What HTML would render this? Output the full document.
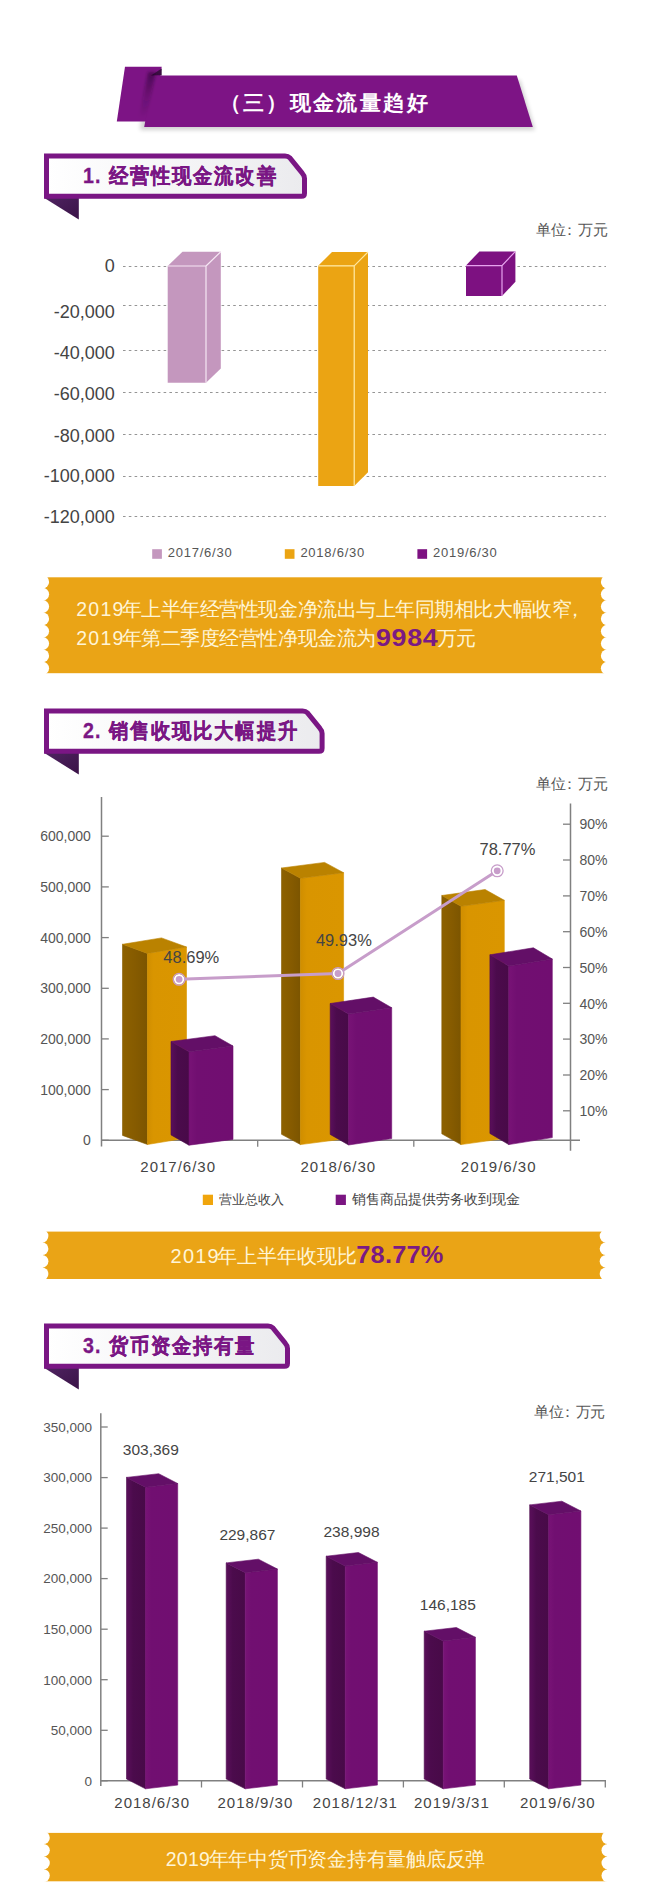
<!DOCTYPE html>
<html><head><meta charset="utf-8"><style>
html,body{margin:0;padding:0;background:#fff;}
body{width:650px;height:1890px;position:relative;overflow:hidden;font-family:"Liberation Sans",sans-serif;}
svg text{font-family:"Liberation Sans",sans-serif;}
</style></head><body>
<svg width="650" height="1890" viewBox="0 0 650 1890" style="position:absolute;left:0;top:0"><defs><linearGradient id="hdrfill" x1="0" x2="1" y1="0" y2="0"><stop offset="0" stop-color="#ffffff"/><stop offset="1" stop-color="#ebebee"/></linearGradient><linearGradient id="fold" x1="0" x2="1" y1="0" y2="1"><stop offset="0" stop-color="#4f2461"/><stop offset="1" stop-color="#3a1247"/></linearGradient><linearGradient id="edgeshade" x1="0" x2="1" y1="0" y2="0"><stop offset="0" stop-color="#2a0030" stop-opacity="0"/><stop offset="1" stop-color="#2a0030" stop-opacity="0.5"/></linearGradient><linearGradient id="vshade" x1="0" x2="0" y1="0" y2="1"><stop offset="0" stop-color="#1e0024" stop-opacity="0.5"/><stop offset="0.5" stop-color="#1e0024" stop-opacity="0.2"/><stop offset="1" stop-color="#1e0024" stop-opacity="0"/></linearGradient><filter id="blur05" x="-50%" y="-50%" width="200%" height="200%"><feGaussianBlur stdDeviation="0.7"/></filter><filter id="blur1" x="-100%" y="-20%" width="300%" height="140%"><feGaussianBlur stdDeviation="1.5"/></filter><filter id="blur2" x="-10%" y="-50%" width="120%" height="200%"><feGaussianBlur stdDeviation="2"/></filter></defs><polygon points="147.0,80.0 520.0,80.0 535.0,130.0 140.0,130.0" fill="#000" opacity="0.18" filter="url(#blur2)"/><polygon points="125.0,66.8 161.7,66.8 153.5,121.5 116.8,121.5" fill="#7D1485" /><polygon points="151.0,75.6 161.7,68.5 161.7,75.6" fill="#3a0b42" filter="url(#blur05)"/><polygon points="153.7,75.6 516.8,75.6 532.8,127.1 144.2,127.1" fill="#7D1485" /><clipPath id="flapclip"><polygon points="125,66.8 161.7,66.8 153.5,121.5 116.8,121.5"/></clipPath><g clip-path="url(#flapclip)"><polygon points="148,72 156,72 146,118 139,118" fill="url(#vshade)" filter="url(#blur1)"/></g><text x="219.5" y="110.0" font-size="21" fill="#ffffff" text-anchor="start" font-weight="bold" letter-spacing="2.4">（三）现金流量趋好</text><polygon points="44.0,197.8 78.8,197.8 78.8,219.5" fill="url(#fold)" /><path d="M46.5,156.0 L285.0,156.0 Q288.0,156.0 290.1,158.1 L302.4,173.4 Q304.5,175.5 304.5,178.5 L304.5,193.3 Q304.5,196.3 301.5,196.3 L46.5,196.3 Z" fill="url(#hdrfill)" stroke="#7A1684" stroke-width="5" stroke-linejoin="miter"/><g transform="translate(83,182.9) scale(0.92,1)"><text x="0.0" y="0.0" font-size="21.3" fill="#7A1684" text-anchor="start" font-weight="bold" letter-spacing="1.2" stroke="#7A1684" stroke-width="0.3">1.</text></g><g transform="translate(108.7,182.9) scale(0.92,1)"><text x="0.0" y="0.0" font-size="21.3" fill="#7A1684" text-anchor="start" font-weight="bold" letter-spacing="2.15" stroke="#7A1684" stroke-width="0.3">经营性现金流改善</text></g><polygon points="44.0,752.8 78.8,752.8 78.8,774.5" fill="url(#fold)" /><path d="M46.5,711.0 L302.6,711.0 Q305.6,711.0 307.7,713.1 L320.0,728.4 Q322.1,730.5 322.1,733.5 L322.1,748.3 Q322.1,751.3 319.1,751.3 L46.5,751.3 Z" fill="url(#hdrfill)" stroke="#7A1684" stroke-width="5" stroke-linejoin="miter"/><g transform="translate(83,737.9) scale(0.92,1)"><text x="0.0" y="0.0" font-size="21.3" fill="#7A1684" text-anchor="start" font-weight="bold" letter-spacing="1.2" stroke="#7A1684" stroke-width="0.3">2.</text></g><g transform="translate(108.7,737.9) scale(0.92,1)"><text x="0.0" y="0.0" font-size="21.3" fill="#7A1684" text-anchor="start" font-weight="bold" letter-spacing="2.15" stroke="#7A1684" stroke-width="0.3">销售收现比大幅提升</text></g><polygon points="44.0,1367.8 78.8,1367.8 78.8,1389.5" fill="url(#fold)" /><path d="M46.5,1326.0 L268.0,1326.0 Q271.0,1326.0 273.1,1328.1 L285.4,1343.4 Q287.5,1345.5 287.5,1348.5 L287.5,1363.3 Q287.5,1366.3 284.5,1366.3 L46.5,1366.3 Z" fill="url(#hdrfill)" stroke="#7A1684" stroke-width="5" stroke-linejoin="miter"/><g transform="translate(83,1352.9) scale(0.92,1)"><text x="0.0" y="0.0" font-size="21.3" fill="#7A1684" text-anchor="start" font-weight="bold" letter-spacing="1.2" stroke="#7A1684" stroke-width="0.3">3.</text></g><g transform="translate(108.7,1352.9) scale(0.92,1)"><text x="0.0" y="0.0" font-size="21.3" fill="#7A1684" text-anchor="start" font-weight="bold" letter-spacing="2.15" stroke="#7A1684" stroke-width="0.3">货币资金持有量</text></g><rect x="43.5" y="577.3" width="563.0" height="95.9" fill="#EAA416"/><circle cx="42.7" cy="581.9" r="6.4" fill="#fff"/><circle cx="607.3" cy="581.9" r="6.4" fill="#fff"/><circle cx="42.7" cy="594.2" r="6.4" fill="#fff"/><circle cx="607.3" cy="594.2" r="6.4" fill="#fff"/><circle cx="42.7" cy="606.5" r="6.4" fill="#fff"/><circle cx="607.3" cy="606.5" r="6.4" fill="#fff"/><circle cx="42.7" cy="618.8" r="6.4" fill="#fff"/><circle cx="607.3" cy="618.8" r="6.4" fill="#fff"/><circle cx="42.7" cy="631.2" r="6.4" fill="#fff"/><circle cx="607.3" cy="631.2" r="6.4" fill="#fff"/><circle cx="42.7" cy="643.5" r="6.4" fill="#fff"/><circle cx="607.3" cy="643.5" r="6.4" fill="#fff"/><circle cx="42.7" cy="655.8" r="6.4" fill="#fff"/><circle cx="607.3" cy="655.8" r="6.4" fill="#fff"/><circle cx="42.7" cy="668.2" r="6.4" fill="#fff"/><circle cx="607.3" cy="668.2" r="6.4" fill="#fff"/><rect x="42.8" y="1231.6" width="562.5" height="47.4" fill="#EAA416"/><circle cx="42.0" cy="1236.1" r="6.4" fill="#fff"/><circle cx="606.1" cy="1236.1" r="6.4" fill="#fff"/><circle cx="42.0" cy="1248.7" r="6.4" fill="#fff"/><circle cx="606.1" cy="1248.7" r="6.4" fill="#fff"/><circle cx="42.0" cy="1261.3" r="6.4" fill="#fff"/><circle cx="606.1" cy="1261.3" r="6.4" fill="#fff"/><circle cx="42.0" cy="1273.9" r="6.4" fill="#fff"/><circle cx="606.1" cy="1273.9" r="6.4" fill="#fff"/><rect x="44.2" y="1832.9" width="562.9" height="48.4" fill="#EAA416"/><circle cx="43.4" cy="1837.7" r="6.4" fill="#fff"/><circle cx="607.9" cy="1837.7" r="6.4" fill="#fff"/><circle cx="43.4" cy="1850.3" r="6.4" fill="#fff"/><circle cx="607.9" cy="1850.3" r="6.4" fill="#fff"/><circle cx="43.4" cy="1863.0" r="6.4" fill="#fff"/><circle cx="607.9" cy="1863.0" r="6.4" fill="#fff"/><circle cx="43.4" cy="1875.6" r="6.4" fill="#fff"/><circle cx="607.9" cy="1875.6" r="6.4" fill="#fff"/><text x="76.2" y="615.5" font-size="19.5" fill="#FFF5D6" text-anchor="start" font-weight="normal" letter-spacing="1.3">2019</text><text x="121.6" y="615.5" font-size="19.5" fill="#FFF5D6" text-anchor="start" font-weight="normal" letter-spacing="-0.45">年上半年经营性现金净流出与上年同期相比大幅收窄</text><text x="564.5" y="615.5" font-size="19.5" fill="#FFF5D6" text-anchor="start" font-weight="normal" letter-spacing="0">，</text><text x="76.2" y="645.0" font-size="19.5" fill="#FFF5D6" text-anchor="start" font-weight="normal" letter-spacing="1.3">2019</text><text x="121.6" y="645.0" font-size="19.5" fill="#FFF5D6" text-anchor="start" font-weight="normal" letter-spacing="-0.45">年第二季度经营性净现金流为</text><g transform="translate(376,646.2) scale(1.12,1)"><text x="0.0" y="0.0" font-size="24" fill="#7A1A84" text-anchor="start" font-weight="bold" letter-spacing="0.6">9984</text></g><text x="437.0" y="645.0" font-size="19.5" fill="#FFF5D6" text-anchor="start" font-weight="normal" letter-spacing="-1.2">万元</text><text x="170.6" y="1263.4" font-size="20" fill="#FFF5D6" text-anchor="start" font-weight="normal" letter-spacing="1.2">2019</text><text x="216.6" y="1263.4" font-size="20" fill="#FFF5D6" text-anchor="start" font-weight="normal" letter-spacing="0">年上半年收现比</text><g transform="translate(356.3,1263.4) scale(1.08,1)"><text x="0.0" y="0.0" font-size="23.5" fill="#7A1A84" text-anchor="start" font-weight="bold" letter-spacing="0.2">78.77%</text></g><text x="165.8" y="1866.3" font-size="19.5" fill="#FFF5D6" text-anchor="start" font-weight="normal" letter-spacing="0.2">2019</text><text x="208.7" y="1866.3" font-size="19.5" fill="#FFF5D6" text-anchor="start" font-weight="normal" letter-spacing="-0.25">年年中货币资金持有量触底反弹</text><text x="535.8" y="235.0" font-size="15" fill="#555" text-anchor="start" font-weight="normal" >单位</text><text x="562.3" y="235.0" font-size="15" fill="#555" text-anchor="start" font-weight="normal" >：</text><text x="578.1" y="235.0" font-size="15" fill="#555" text-anchor="start" font-weight="normal" letter-spacing="-0.5">万元</text><line x1="123" y1="266.5" x2="606" y2="266.5" stroke="#959595" stroke-width="1" stroke-dasharray="2.6,3.2"/><line x1="123" y1="305.5" x2="606" y2="305.5" stroke="#959595" stroke-width="1" stroke-dasharray="2.6,3.2"/><line x1="123" y1="350.5" x2="606" y2="350.5" stroke="#959595" stroke-width="1" stroke-dasharray="2.6,3.2"/><line x1="123" y1="392.5" x2="606" y2="392.5" stroke="#959595" stroke-width="1" stroke-dasharray="2.6,3.2"/><line x1="123" y1="434.5" x2="606" y2="434.5" stroke="#959595" stroke-width="1" stroke-dasharray="2.6,3.2"/><line x1="123" y1="476.5" x2="606" y2="476.5" stroke="#959595" stroke-width="1" stroke-dasharray="2.6,3.2"/><line x1="123" y1="516.5" x2="606" y2="516.5" stroke="#959595" stroke-width="1" stroke-dasharray="2.6,3.2"/><text x="114.8" y="271.5" font-size="18" fill="#444" text-anchor="end" font-weight="normal" >0</text><text x="114.8" y="317.5" font-size="18" fill="#444" text-anchor="end" font-weight="normal" >-20,000</text><text x="114.8" y="358.5" font-size="18" fill="#444" text-anchor="end" font-weight="normal" >-40,000</text><text x="114.8" y="400.4" font-size="18" fill="#444" text-anchor="end" font-weight="normal" >-60,000</text><text x="114.8" y="442.0" font-size="18" fill="#444" text-anchor="end" font-weight="normal" >-80,000</text><text x="114.8" y="482.1" font-size="18" fill="#444" text-anchor="end" font-weight="normal" >-100,000</text><text x="114.8" y="522.5" font-size="18" fill="#444" text-anchor="end" font-weight="normal" >-120,000</text><polygon points="167.7,266.0 206.0,266.0 206.0,382.8 167.7,382.8" fill="#C497BE" /><polygon points="167.7,266.0 182.5,251.7 220.8,251.7 206.0,266.0" fill="#C497BE" /><polygon points="206.0,266.0 220.8,251.7 220.8,368.5 206.0,382.8" fill="#C497BE" /><path d="M167.7,266.0 L206.0,266.0 L206.0,382.8 M206.0,266.0 L220.8,251.7" fill="none" stroke="#F6E6F4" stroke-width="1.2"/><polygon points="318.2,265.8 354.2,265.8 354.2,486.0 318.2,486.0" fill="#EBA413" /><polygon points="318.2,265.8 332.0,252.0 368.0,252.0 354.2,265.8" fill="#EBA413" /><polygon points="354.2,265.8 368.0,252.0 368.0,472.2 354.2,486.0" fill="#EBA413" /><path d="M318.2,265.8 L354.2,265.8 L354.2,486.0 M354.2,265.8 L368.0,252.0" fill="none" stroke="#FFE8A0" stroke-width="1.2"/><polygon points="466.0,265.6 502.0,265.6 502.0,296.0 466.0,296.0" fill="#7D1181" /><polygon points="466.0,265.6 479.4,251.4 515.4,251.4 502.0,265.6" fill="#7D1181" /><polygon points="502.0,265.6 515.4,251.4 515.4,281.8 502.0,296.0" fill="#7D1181" /><path d="M466.0,265.6 L502.0,265.6 L502.0,296.0 M502.0,265.6 L515.4,251.4" fill="none" stroke="#E7A2EE" stroke-width="1.2"/><rect x="152.2" y="549.2" width="9.7" height="9.6" fill="#C497BE"/><text x="167.8" y="557.3" font-size="13" fill="#555" text-anchor="start" font-weight="normal" letter-spacing="0.75">2017/6/30</text><rect x="284.8" y="549.2" width="9.7" height="9.6" fill="#EBA413"/><text x="300.4" y="557.3" font-size="13" fill="#555" text-anchor="start" font-weight="normal" letter-spacing="0.75">2018/6/30</text><rect x="417.4" y="549.2" width="9.7" height="9.6" fill="#7D1181"/><text x="433.0" y="557.3" font-size="13" fill="#555" text-anchor="start" font-weight="normal" letter-spacing="0.75">2019/6/30</text><text x="535.8" y="788.5" font-size="15" fill="#555" text-anchor="start" font-weight="normal" >单位</text><text x="562.3" y="788.5" font-size="15" fill="#555" text-anchor="start" font-weight="normal" >：</text><text x="578.1" y="788.5" font-size="15" fill="#555" text-anchor="start" font-weight="normal" letter-spacing="-0.5">万元</text><line x1="101.5" y1="797" x2="101.5" y2="1146.5" stroke="#808080" stroke-width="1.5"/><line x1="570.5" y1="803.5" x2="570.5" y2="1150.8" stroke="#808080" stroke-width="1.5"/><line x1="101.5" y1="1140.3" x2="108.8" y2="1140.3" stroke="#808080" stroke-width="1.3"/><text x="90.8" y="1145.3" font-size="14" fill="#555" text-anchor="end" font-weight="normal" >0</text><line x1="101.5" y1="1089.6" x2="108.8" y2="1089.6" stroke="#808080" stroke-width="1.3"/><text x="90.8" y="1094.6" font-size="14" fill="#555" text-anchor="end" font-weight="normal" >100,000</text><line x1="101.5" y1="1038.9" x2="108.8" y2="1038.9" stroke="#808080" stroke-width="1.3"/><text x="90.8" y="1043.9" font-size="14" fill="#555" text-anchor="end" font-weight="normal" >200,000</text><line x1="101.5" y1="988.3" x2="108.8" y2="988.3" stroke="#808080" stroke-width="1.3"/><text x="90.8" y="993.3" font-size="14" fill="#555" text-anchor="end" font-weight="normal" >300,000</text><line x1="101.5" y1="937.6" x2="108.8" y2="937.6" stroke="#808080" stroke-width="1.3"/><text x="90.8" y="942.6" font-size="14" fill="#555" text-anchor="end" font-weight="normal" >400,000</text><line x1="101.5" y1="886.9" x2="108.8" y2="886.9" stroke="#808080" stroke-width="1.3"/><text x="90.8" y="891.9" font-size="14" fill="#555" text-anchor="end" font-weight="normal" >500,000</text><line x1="101.5" y1="836.2" x2="108.8" y2="836.2" stroke="#808080" stroke-width="1.3"/><text x="90.8" y="841.2" font-size="14" fill="#555" text-anchor="end" font-weight="normal" >600,000</text><line x1="563" y1="1110.8" x2="570.5" y2="1110.8" stroke="#808080" stroke-width="1.3"/><text x="579.5" y="1116.0" font-size="14" fill="#555" text-anchor="start" font-weight="normal" >10%</text><line x1="563" y1="1075.0" x2="570.5" y2="1075.0" stroke="#808080" stroke-width="1.3"/><text x="579.5" y="1080.2" font-size="14" fill="#555" text-anchor="start" font-weight="normal" >20%</text><line x1="563" y1="1039.1" x2="570.5" y2="1039.1" stroke="#808080" stroke-width="1.3"/><text x="579.5" y="1044.3" font-size="14" fill="#555" text-anchor="start" font-weight="normal" >30%</text><line x1="563" y1="1003.3" x2="570.5" y2="1003.3" stroke="#808080" stroke-width="1.3"/><text x="579.5" y="1008.5" font-size="14" fill="#555" text-anchor="start" font-weight="normal" >40%</text><line x1="563" y1="967.5" x2="570.5" y2="967.5" stroke="#808080" stroke-width="1.3"/><text x="579.5" y="972.7" font-size="14" fill="#555" text-anchor="start" font-weight="normal" >50%</text><line x1="563" y1="931.7" x2="570.5" y2="931.7" stroke="#808080" stroke-width="1.3"/><text x="579.5" y="936.9" font-size="14" fill="#555" text-anchor="start" font-weight="normal" >60%</text><line x1="563" y1="895.9" x2="570.5" y2="895.9" stroke="#808080" stroke-width="1.3"/><text x="579.5" y="901.1" font-size="14" fill="#555" text-anchor="start" font-weight="normal" >70%</text><line x1="563" y1="860.0" x2="570.5" y2="860.0" stroke="#808080" stroke-width="1.3"/><text x="579.5" y="865.2" font-size="14" fill="#555" text-anchor="start" font-weight="normal" >80%</text><line x1="563" y1="824.2" x2="570.5" y2="824.2" stroke="#808080" stroke-width="1.3"/><text x="579.5" y="829.4" font-size="14" fill="#555" text-anchor="start" font-weight="normal" >90%</text><defs><linearGradient id="pside" x1="0" x2="1"><stop offset="0" stop-color="#5a0f5b"/><stop offset="0.35" stop-color="#4b0b4c"/><stop offset="1" stop-color="#480a48"/></linearGradient><linearGradient id="pfront" x1="0" x2="1"><stop offset="0" stop-color="#781376"/><stop offset="0.18" stop-color="#710f71"/><stop offset="1" stop-color="#710e71"/></linearGradient><linearGradient id="oside" x1="0" x2="1"><stop offset="0" stop-color="#8d6100"/><stop offset="0.5" stop-color="#865b00"/><stop offset="1" stop-color="#7c5500"/></linearGradient><linearGradient id="ofront" x1="0" x2="1"><stop offset="0" stop-color="#d08e00"/><stop offset="0.15" stop-color="#d99500"/><stop offset="1" stop-color="#da9600"/></linearGradient></defs><line x1="101.5" y1="1140.3" x2="580" y2="1140.3" stroke="#808080" stroke-width="1.5"/><line x1="257.7" y1="1140.3" x2="257.7" y2="1146.8" stroke="#808080" stroke-width="1.3"/><line x1="413.8" y1="1140.3" x2="413.8" y2="1146.8" stroke="#808080" stroke-width="1.3"/><polygon points="122.5,944.3 147.5,953.4 147.5,1144.5 122.5,1135.4" fill="url(#oside)" stroke="#845a00" stroke-width="0.6" stroke-linejoin="round"/><polygon points="147.5,953.4 186.5,947.0 186.5,1138.1 147.5,1144.5" fill="url(#ofront)" stroke="#d99500" stroke-width="0.6" stroke-linejoin="round"/><polygon points="122.5,944.3 161.5,937.9 186.5,947.0 147.5,953.4" fill="#BA8200" stroke="#BA8200" stroke-width="0.6" stroke-linejoin="round"/><polygon points="171.0,1041.5 189.0,1051.8 189.0,1145.2 171.0,1134.9" fill="url(#pside)" stroke="#4b0b4c" stroke-width="0.6" stroke-linejoin="round"/><polygon points="189.0,1051.8 233.0,1046.0 233.0,1139.4 189.0,1145.2" fill="url(#pfront)" stroke="#710f71" stroke-width="0.6" stroke-linejoin="round"/><polygon points="171.0,1041.5 215.0,1035.7 233.0,1046.0 189.0,1051.8" fill="#630F67" stroke="#630F67" stroke-width="0.6" stroke-linejoin="round"/><polygon points="281.5,868.0 300.5,878.3 300.5,1144.6 281.5,1134.3" fill="url(#oside)" stroke="#845a00" stroke-width="0.6" stroke-linejoin="round"/><polygon points="300.5,878.3 343.6,872.7 343.6,1139.0 300.5,1144.6" fill="url(#ofront)" stroke="#d99500" stroke-width="0.6" stroke-linejoin="round"/><polygon points="281.5,868.0 324.6,862.4 343.6,872.7 300.5,878.3" fill="#BA8200" stroke="#BA8200" stroke-width="0.6" stroke-linejoin="round"/><polygon points="330.2,1003.5 348.6,1014.1 348.6,1145.0 330.2,1134.4" fill="url(#pside)" stroke="#4b0b4c" stroke-width="0.6" stroke-linejoin="round"/><polygon points="348.6,1014.1 391.7,1007.7 391.7,1138.6 348.6,1145.0" fill="url(#pfront)" stroke="#710f71" stroke-width="0.6" stroke-linejoin="round"/><polygon points="330.2,1003.5 373.3,997.1 391.7,1007.7 348.6,1014.1" fill="#630F67" stroke="#630F67" stroke-width="0.6" stroke-linejoin="round"/><polygon points="441.8,895.5 461.0,906.3 461.0,1144.6 441.8,1133.8" fill="url(#oside)" stroke="#845a00" stroke-width="0.6" stroke-linejoin="round"/><polygon points="461.0,906.3 504.3,900.3 504.3,1138.6 461.0,1144.6" fill="url(#ofront)" stroke="#d99500" stroke-width="0.6" stroke-linejoin="round"/><polygon points="441.8,895.5 485.1,889.5 504.3,900.3 461.0,906.3" fill="#BA8200" stroke="#BA8200" stroke-width="0.6" stroke-linejoin="round"/><polygon points="489.9,954.8 508.8,966.0 508.8,1144.6 489.9,1133.4" fill="url(#pside)" stroke="#4b0b4c" stroke-width="0.6" stroke-linejoin="round"/><polygon points="508.8,966.0 552.3,959.0 552.3,1137.6 508.8,1144.6" fill="url(#pfront)" stroke="#710f71" stroke-width="0.6" stroke-linejoin="round"/><polygon points="489.9,954.8 533.4,947.8 552.3,959.0 508.8,966.0" fill="#630F67" stroke="#630F67" stroke-width="0.6" stroke-linejoin="round"/><polyline points="179.1,979.3 338,973.5 497.2,870.8" fill="none" stroke="#C79DCA" stroke-width="3"/><circle cx="179.1" cy="979.3" r="4.3" fill="#C79DCA" stroke="#fff" stroke-width="1.8"/><circle cx="179.1" cy="979.3" r="5.9" fill="none" stroke="#C79DCA" stroke-width="1.3"/><circle cx="338.0" cy="973.5" r="4.3" fill="#C79DCA" stroke="#fff" stroke-width="1.8"/><circle cx="338.0" cy="973.5" r="5.9" fill="none" stroke="#C79DCA" stroke-width="1.3"/><circle cx="497.2" cy="870.8" r="4.3" fill="#C79DCA" stroke="#fff" stroke-width="1.8"/><circle cx="497.2" cy="870.8" r="5.9" fill="none" stroke="#C79DCA" stroke-width="1.3"/><text x="163.3" y="963.0" font-size="16.5" fill="#444" text-anchor="start" font-weight="normal" >48.69%</text><text x="315.9" y="945.5" font-size="16.5" fill="#444" text-anchor="start" font-weight="normal" >49.93%</text><text x="479.5" y="855.0" font-size="16.5" fill="#444" text-anchor="start" font-weight="normal" >78.77%</text><text x="178.2" y="1172.3" font-size="15" fill="#444" text-anchor="middle" font-weight="normal" letter-spacing="1">2017/6/30</text><text x="338.3" y="1172.3" font-size="15" fill="#444" text-anchor="middle" font-weight="normal" letter-spacing="1">2018/6/30</text><text x="498.7" y="1172.3" font-size="15" fill="#444" text-anchor="middle" font-weight="normal" letter-spacing="1">2019/6/30</text><rect x="202.8" y="1194.7" width="10.2" height="10.3" fill="#F0A50C"/><text x="218.5" y="1204.0" font-size="13.3" fill="#444" text-anchor="start" font-weight="normal" >营业总收入</text><rect x="335.7" y="1194.7" width="10.2" height="10.3" fill="#7B1582"/><text x="351.5" y="1204.0" font-size="13.5" fill="#444" text-anchor="start" font-weight="normal" >销售商品提供劳务收到现金</text><text x="533.5" y="1417.0" font-size="15" fill="#555" text-anchor="start" font-weight="normal" >单位</text><text x="560.0" y="1417.0" font-size="15" fill="#555" text-anchor="start" font-weight="normal" >：</text><text x="575.8" y="1417.0" font-size="15" fill="#555" text-anchor="start" font-weight="normal" letter-spacing="-0.5">万元</text><line x1="100.8" y1="1413.2" x2="100.8" y2="1786" stroke="#808080" stroke-width="1.5"/><line x1="100.8" y1="1780.8" x2="107.7" y2="1780.8" stroke="#808080" stroke-width="1.3"/><text x="92.0" y="1785.6" font-size="13.5" fill="#555" text-anchor="end" font-weight="normal" >0</text><line x1="100.8" y1="1730.3" x2="107.7" y2="1730.3" stroke="#808080" stroke-width="1.3"/><text x="92.0" y="1735.1" font-size="13.5" fill="#555" text-anchor="end" font-weight="normal" >50,000</text><line x1="100.8" y1="1679.7" x2="107.7" y2="1679.7" stroke="#808080" stroke-width="1.3"/><text x="92.0" y="1684.5" font-size="13.5" fill="#555" text-anchor="end" font-weight="normal" >100,000</text><line x1="100.8" y1="1629.2" x2="107.7" y2="1629.2" stroke="#808080" stroke-width="1.3"/><text x="92.0" y="1634.0" font-size="13.5" fill="#555" text-anchor="end" font-weight="normal" >150,000</text><line x1="100.8" y1="1578.6" x2="107.7" y2="1578.6" stroke="#808080" stroke-width="1.3"/><text x="92.0" y="1583.4" font-size="13.5" fill="#555" text-anchor="end" font-weight="normal" >200,000</text><line x1="100.8" y1="1528.1" x2="107.7" y2="1528.1" stroke="#808080" stroke-width="1.3"/><text x="92.0" y="1532.9" font-size="13.5" fill="#555" text-anchor="end" font-weight="normal" >250,000</text><line x1="100.8" y1="1477.6" x2="107.7" y2="1477.6" stroke="#808080" stroke-width="1.3"/><text x="92.0" y="1482.4" font-size="13.5" fill="#555" text-anchor="end" font-weight="normal" >300,000</text><line x1="100.8" y1="1427.0" x2="107.7" y2="1427.0" stroke="#808080" stroke-width="1.3"/><text x="92.0" y="1431.8" font-size="13.5" fill="#555" text-anchor="end" font-weight="normal" >350,000</text><line x1="100.8" y1="1780.8" x2="606" y2="1780.8" stroke="#808080" stroke-width="1.5"/><line x1="201.5" y1="1780.8" x2="201.5" y2="1787.5" stroke="#808080" stroke-width="1.3"/><line x1="302.5" y1="1780.8" x2="302.5" y2="1787.5" stroke="#808080" stroke-width="1.3"/><line x1="403.4" y1="1780.8" x2="403.4" y2="1787.5" stroke="#808080" stroke-width="1.3"/><line x1="504.3" y1="1780.8" x2="504.3" y2="1787.5" stroke="#808080" stroke-width="1.3"/><line x1="605.3" y1="1780.8" x2="605.3" y2="1787.5" stroke="#808080" stroke-width="1.3"/><polygon points="126.5,1477.4 145.5,1487.2 145.5,1788.8 126.5,1779.0" fill="url(#pside)" stroke="#4b0b4c" stroke-width="0.6" stroke-linejoin="round"/><polygon points="145.5,1487.2 177.7,1483.5 177.7,1785.1 145.5,1788.8" fill="url(#pfront)" stroke="#710f71" stroke-width="0.6" stroke-linejoin="round"/><polygon points="126.5,1477.4 158.7,1473.7 177.7,1483.5 145.5,1487.2" fill="#630F67" stroke="#630F67" stroke-width="0.6" stroke-linejoin="round"/><polygon points="226.2,1562.9 245.2,1572.7 245.2,1788.8 226.2,1779.0" fill="url(#pside)" stroke="#4b0b4c" stroke-width="0.6" stroke-linejoin="round"/><polygon points="245.2,1572.7 277.4,1569.0 277.4,1785.1 245.2,1788.8" fill="url(#pfront)" stroke="#710f71" stroke-width="0.6" stroke-linejoin="round"/><polygon points="226.2,1562.9 258.4,1559.2 277.4,1569.0 245.2,1572.7" fill="#630F67" stroke="#630F67" stroke-width="0.6" stroke-linejoin="round"/><polygon points="326.2,1556.2 345.2,1566.0 345.2,1788.8 326.2,1779.0" fill="url(#pside)" stroke="#4b0b4c" stroke-width="0.6" stroke-linejoin="round"/><polygon points="345.2,1566.0 377.4,1562.3 377.4,1785.1 345.2,1788.8" fill="url(#pfront)" stroke="#710f71" stroke-width="0.6" stroke-linejoin="round"/><polygon points="326.2,1556.2 358.4,1552.5 377.4,1562.3 345.2,1566.0" fill="#630F67" stroke="#630F67" stroke-width="0.6" stroke-linejoin="round"/><polygon points="424.2,1631.2 443.2,1641.0 443.2,1788.8 424.2,1779.0" fill="url(#pside)" stroke="#4b0b4c" stroke-width="0.6" stroke-linejoin="round"/><polygon points="443.2,1641.0 475.4,1637.3 475.4,1785.1 443.2,1788.8" fill="url(#pfront)" stroke="#710f71" stroke-width="0.6" stroke-linejoin="round"/><polygon points="424.2,1631.2 456.4,1627.5 475.4,1637.3 443.2,1641.0" fill="#630F67" stroke="#630F67" stroke-width="0.6" stroke-linejoin="round"/><polygon points="529.7,1504.9 548.7,1514.7 548.7,1788.8 529.7,1779.0" fill="url(#pside)" stroke="#4b0b4c" stroke-width="0.6" stroke-linejoin="round"/><polygon points="548.7,1514.7 580.9,1511.0 580.9,1785.1 548.7,1788.8" fill="url(#pfront)" stroke="#710f71" stroke-width="0.6" stroke-linejoin="round"/><polygon points="529.7,1504.9 561.9,1501.2 580.9,1511.0 548.7,1514.7" fill="#630F67" stroke="#630F67" stroke-width="0.6" stroke-linejoin="round"/><text x="150.8" y="1454.9" font-size="15.5" fill="#444" text-anchor="middle" font-weight="normal" >303,369</text><text x="247.4" y="1540.2" font-size="15.5" fill="#444" text-anchor="middle" font-weight="normal" >229,867</text><text x="351.5" y="1537.0" font-size="15.5" fill="#444" text-anchor="middle" font-weight="normal" >238,998</text><text x="447.8" y="1609.7" font-size="15.5" fill="#444" text-anchor="middle" font-weight="normal" >146,185</text><text x="556.8" y="1482.3" font-size="15.5" fill="#444" text-anchor="middle" font-weight="normal" >271,501</text><text x="152.2" y="1807.7" font-size="15" fill="#444" text-anchor="middle" font-weight="normal" letter-spacing="1">2018/6/30</text><text x="255.4" y="1807.7" font-size="15" fill="#444" text-anchor="middle" font-weight="normal" letter-spacing="1">2018/9/30</text><text x="355.4" y="1807.7" font-size="15" fill="#444" text-anchor="middle" font-weight="normal" letter-spacing="1">2018/12/31</text><text x="451.9" y="1807.7" font-size="15" fill="#444" text-anchor="middle" font-weight="normal" letter-spacing="1">2019/3/31</text><text x="557.8" y="1807.7" font-size="15" fill="#444" text-anchor="middle" font-weight="normal" letter-spacing="1">2019/6/30</text></svg>
</body></html>
